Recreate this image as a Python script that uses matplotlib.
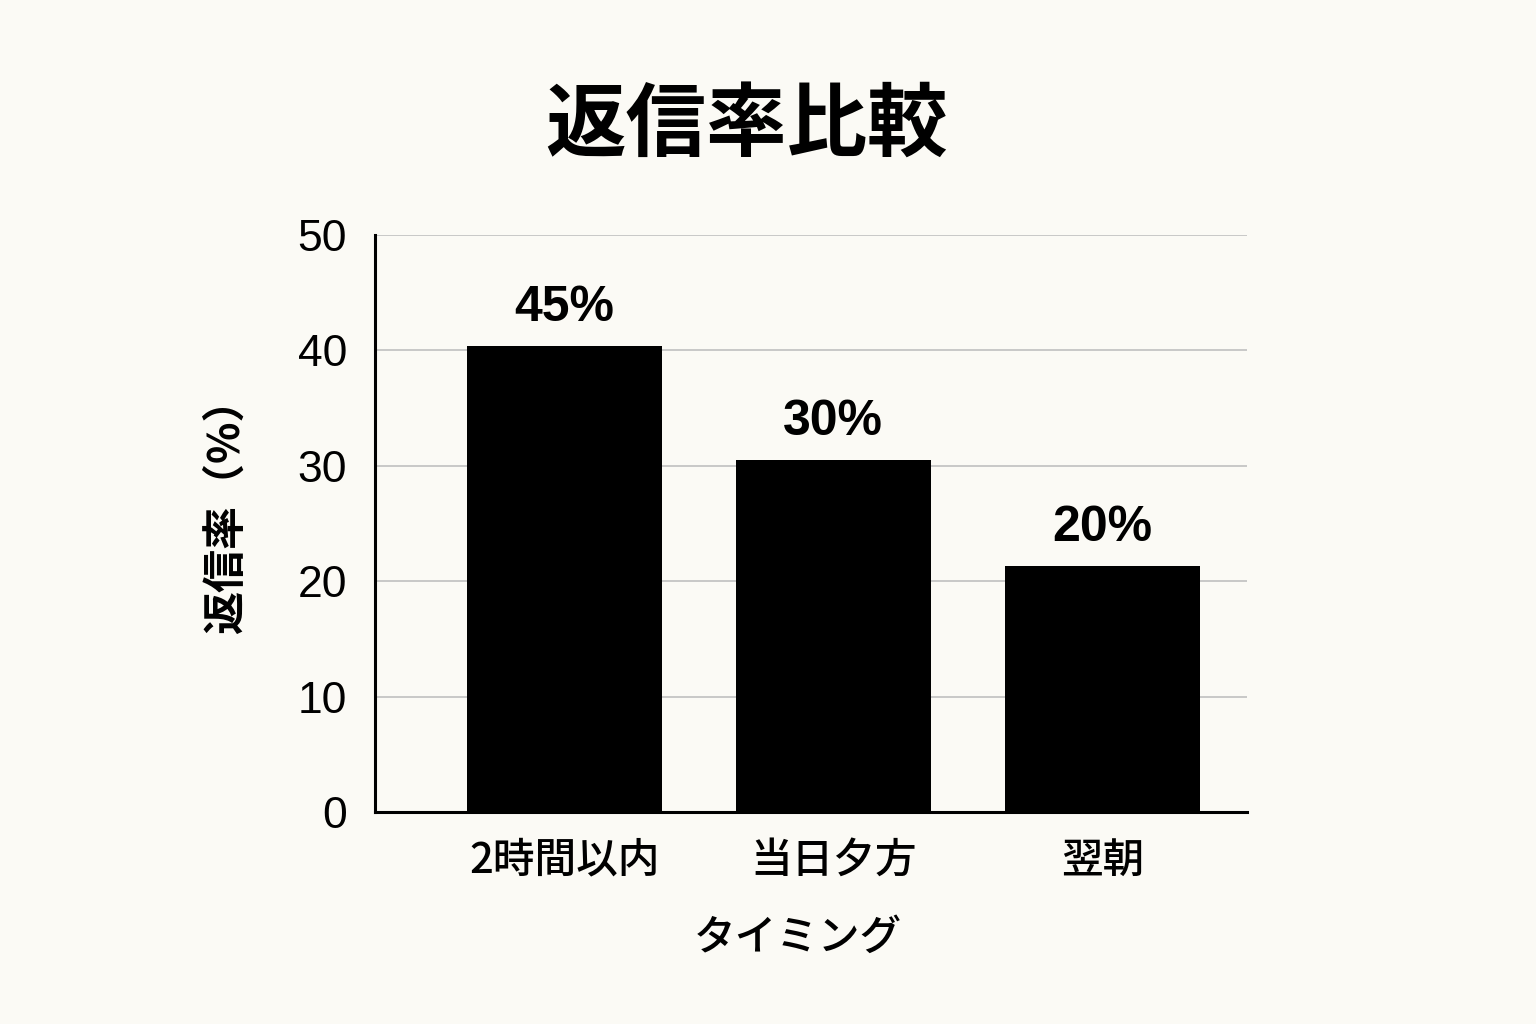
import matplotlib.pyplot as plt

plt.rcParams['font.family'] = ['Liberation Sans', 'Noto Sans CJK JP', 'DejaVu Sans']

categories = ['2時間以内', '当日夕方', '翌朝']
bar_heights = [40.4, 30.5, 21.3]
bar_labels = ['45%', '30%', '20%']
y_ticks = [0, 10, 20, 30, 40, 50]

bg = '#fbfaf5'
cjk = ['Noto Sans CJK JP', 'DejaVu Sans']
fig = plt.figure(figsize=(15.36, 10.24), dpi=100, facecolor=bg)
ax = fig.add_axes([0.244, 0.207, 0.568, 0.5635], facecolor=bg)

x = range(len(categories))
bars = ax.bar(x, bar_heights, width=0.725, color='black', zorder=3)
for b, lab in zip(bars, bar_labels):
    ax.text(b.get_x() + b.get_width() / 2, b.get_height() + 1.3, lab,
            ha='center', va='bottom', fontsize=36, fontweight='bold')

ax.set_xlim(-0.704, 2.539)
ax.set_ylim(0, 50)
ax.set_yticks(y_ticks)
ax.set_xticks(list(x))
ax.set_xticklabels(categories, fontsize=30, fontweight='medium', family=cjk)
ax.tick_params(axis='y', labelsize=32, length=0, pad=20)
ax.tick_params(axis='x', length=0, pad=19)
ax.grid(axis='y', color='#c4c4c4', linewidth=1.3, zorder=0)

for s in ['top', 'right']:
    ax.spines[s].set_visible(False)
for s in ['left', 'bottom']:
    ax.spines[s].set_linewidth(2.2)
    ax.spines[s].set_zorder(4)

ax.set_xlabel('タイミング', fontsize=30, fontweight='medium', family=cjk, va='top')
ax.xaxis.set_label_coords(0.485, -0.18)
ax.set_ylabel('返信率（%）', fontsize=31, fontweight='bold', family=cjk)
ax.yaxis.set_label_coords(-0.146, 0.53)

fig.text(0.486, 0.877, '返信率比較', ha='center', va='center', fontsize=58,
         fontweight='bold', family=cjk)

fig.savefig('out.png', dpi=100, facecolor=bg)
